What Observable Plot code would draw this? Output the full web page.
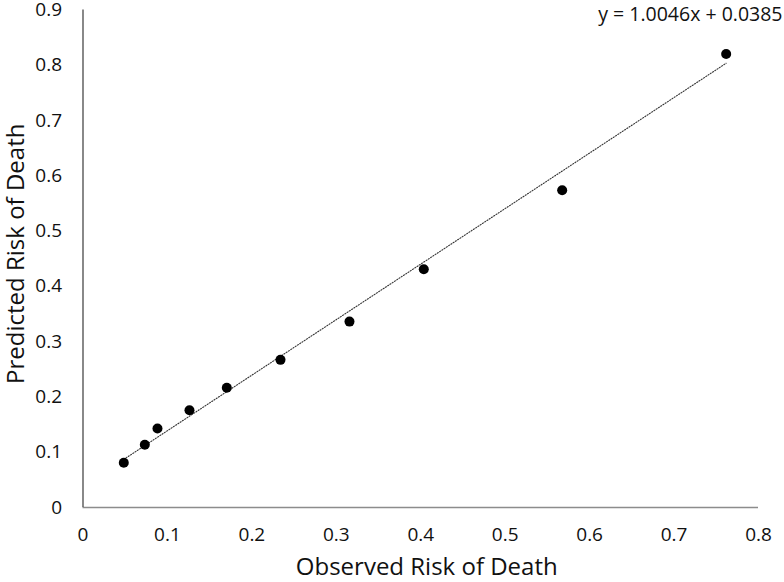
<!DOCTYPE html>
<html>
<head>
<meta charset="utf-8">
<script src="https://cdn.jsdelivr.net/npm/d3@7"></script>
<script src="https://cdn.jsdelivr.net/npm/@observablehq/plot@0.6"></script>
<style>
  html, body { margin: 0; padding: 0; background: #fff; }
  #chart svg { display: block; }
</style>
</head>
<body>
<div id="chart"></div>
<script>
// Observed vs predicted risk of death
const observed  = [0.0483, 0.0732, 0.0882, 0.1261, 0.1703, 0.2339, 0.3156, 0.4036, 0.5675, 0.7617];
const predicted = [0.0808, 0.1134, 0.1429, 0.1759, 0.2165, 0.2671, 0.3363, 0.4309, 0.5738, 0.8204];
const trendSlope = 1.0046;
const trendIntercept = 0.0385;
const trendLabel = "y = 1.0046x + 0.0385";
const xTicks = [0, 0.1, 0.2, 0.3, 0.4, 0.5, 0.6, 0.7, 0.8];
const yTicks = [0, 0.1, 0.2, 0.3, 0.4, 0.5, 0.6, 0.7, 0.8, 0.9];
const xTitle = "Observed Risk of Death";
const yTitle = "Predicted Risk of Death";

const points = observed.map((x, i) => ({x, y: predicted[i]}));
const trend = d3.extent(observed).map(x => ({x, y: trendSlope * x + trendIntercept}));
const fmt = d => d === 0 ? "0" : String(+d.toFixed(1));

const font = "'Open Sans', sans-serif";

const chart = Plot.plot({
  width: 784,
  height: 582,
  marginLeft: 82.5,
  marginRight: 26,
  marginTop: 9.5,
  marginBottom: 75,
  style: {fontFamily: font, fontSize: "19px", color: "#111", background: "#fff", overflow: "visible"},
  x: {domain: [0, 0.8], ticks: xTicks, tickFormat: fmt},
  y: {domain: [0, 0.9], ticks: yTicks, tickFormat: fmt},
  marks: [
    Plot.axisX({ticks: xTicks, tickFormat: fmt, tickSize: 0, tickPadding: 20, label: null, fontSize: 19}),
    Plot.axisY({ticks: yTicks, tickFormat: fmt, tickSize: 0, tickPadding: 21, label: null, fontSize: 19}),
    Plot.ruleY([0], {stroke: "#8c8c8c", strokeWidth: 1.3}),
    Plot.ruleX([0], {stroke: "#3a3a3a", strokeWidth: 1.2}),
    Plot.line(trend, {x: "x", y: "y", stroke: "#333", strokeWidth: 1.1, strokeDasharray: "1.1,1.6"}),
    Plot.dot(points, {x: "x", y: "y", r: 5, fill: "#000", stroke: "none"}),
    Plot.text([trendLabel], {frameAnchor: "top-right", dx: 24, dy: 5, fontSize: 19.5, fill: "#111", textAnchor: "end", lineAnchor: "middle"}),
    Plot.text([xTitle], {frameAnchor: "bottom", dx: 6, dy: 60, fontSize: 24, fill: "#111", textAnchor: "middle", lineAnchor: "middle"}),
    Plot.text([yTitle], {frameAnchor: "left", dx: -67, dy: -5, rotate: -90, fontSize: 24, fill: "#111", textAnchor: "middle", lineAnchor: "middle"})
  ]
});
document.getElementById("chart").appendChild(chart);
</script>
</body>
</html>
